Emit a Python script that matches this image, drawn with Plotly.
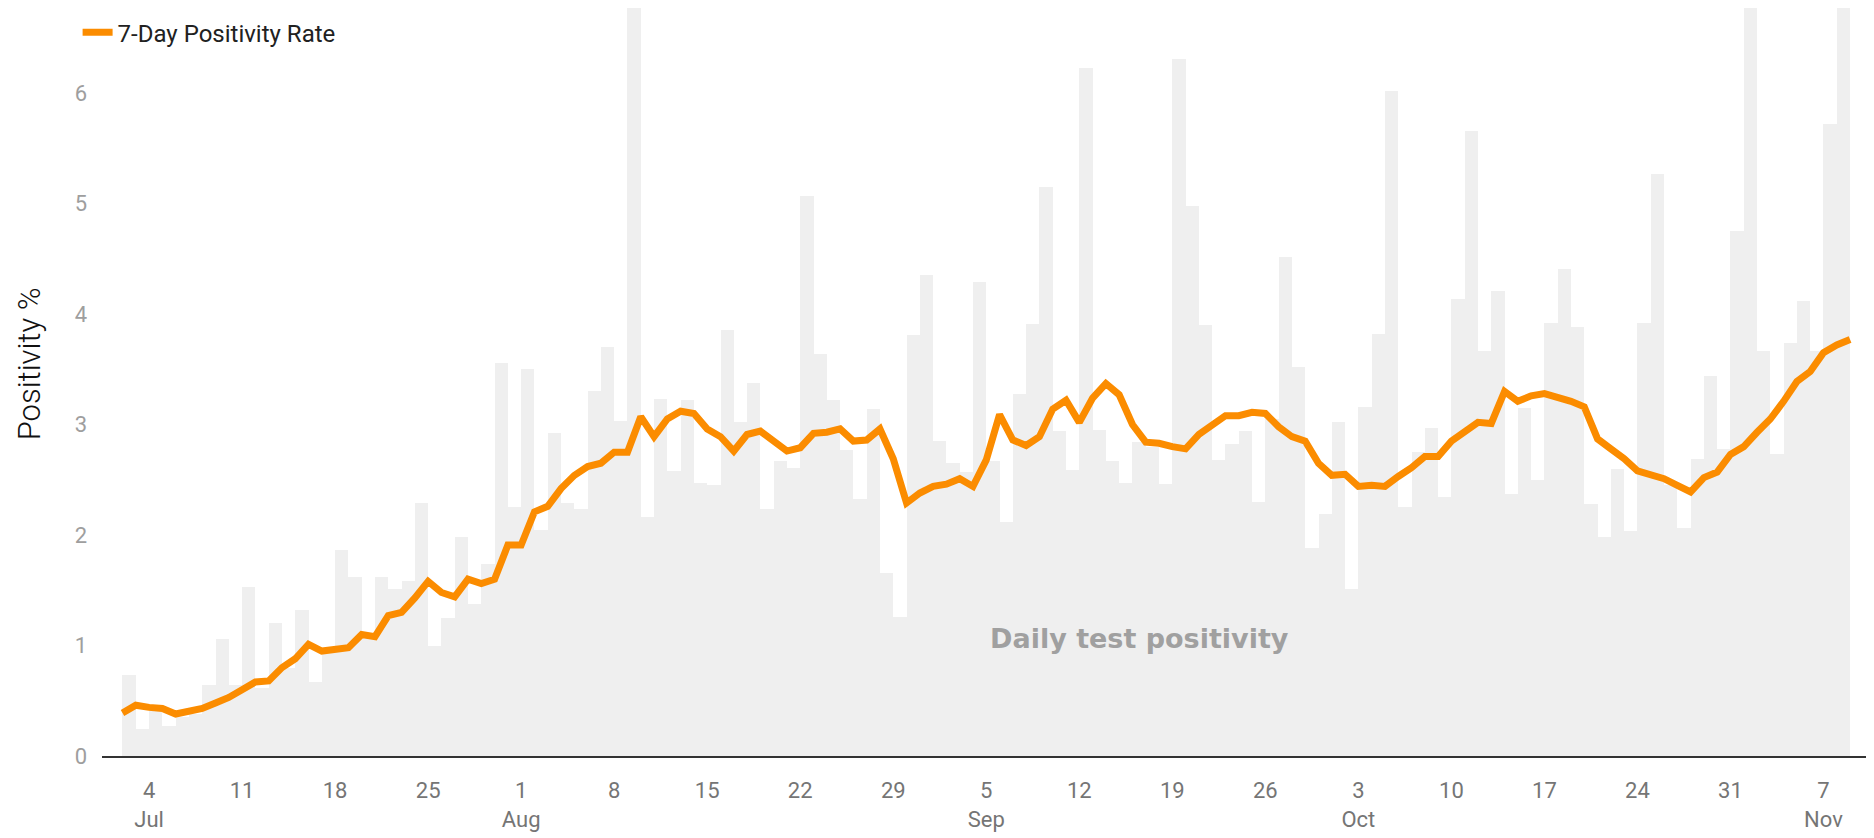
import pandas as pd
import plotly.graph_objects as go

# ---- data -------------------------------------------------------------
start_date = "2020-07-02"

daily_positivity = [
    0.73, 0.24, 0.42, 0.27, 0.35, 0.38, 0.64, 1.06, 0.64, 1.53,
    0.62, 1.20, 0.80, 1.32, 0.67, 0.95, 1.86, 1.62, 1.08, 1.62,
    1.51, 1.58, 2.29, 1.00, 1.25, 1.98, 1.38, 1.74, 3.56, 2.25,
    3.50, 2.05, 2.92, 2.29, 2.24, 3.30, 3.70, 3.03, 6.90, 2.16,
    3.23, 2.58, 3.22, 2.47, 2.45, 3.86, 3.02, 3.38, 2.24, 2.67,
    2.61, 5.07, 3.64, 3.22, 2.77, 2.33, 3.14, 1.66, 1.26, 3.81,
    4.35, 2.85, 2.65, 2.57, 4.29, 2.67, 2.12, 3.28, 3.91, 5.15,
    2.94, 2.59, 6.23, 2.95, 2.67, 2.47, 2.84, 2.80, 2.46, 6.31,
    4.98, 3.90, 2.68, 2.82, 2.94, 2.30, 3.05, 4.52, 3.52, 1.88,
    2.19, 3.02, 1.51, 3.16, 3.82, 6.02, 2.25, 2.75, 2.97, 2.34,
    4.14, 5.66, 3.67, 4.21, 2.37, 3.15, 2.50, 3.92, 4.41, 3.88,
    2.28, 1.98, 2.60, 2.04, 3.92, 5.27, 2.45, 2.06, 2.69, 3.44,
    2.78, 4.75, 6.90, 3.67, 2.73, 3.74, 4.12, 3.67, 5.72, 6.90,
]

seven_day_rate = [
    0.39, 0.46, 0.44, 0.43, 0.38, 0.40, 0.43, 0.48, 0.53, 0.60,
    0.67, 0.68, 0.80, 0.88, 1.01, 0.95, 0.96, 0.98, 1.10, 1.08,
    1.27, 1.30, 1.43, 1.58, 1.48, 1.44, 1.60, 1.56, 1.60, 1.91,
    1.91, 2.21, 2.26, 2.42, 2.54, 2.62, 2.65, 2.75, 2.75, 3.07,
    2.89, 3.05, 3.12, 3.10, 2.96, 2.89, 2.76, 2.91, 2.94, 2.84,
    2.76, 2.79, 2.92, 2.93, 2.96, 2.85, 2.86, 2.96, 2.69, 2.29,
    2.38, 2.44, 2.46, 2.51, 2.44, 2.68, 3.09, 2.86, 2.81, 2.89,
    3.14, 3.22, 3.02, 3.24, 3.37, 3.27, 3.00, 2.84, 2.83, 2.80,
    2.78, 2.91, 3.00, 3.08, 3.08, 3.11, 3.10, 2.98, 2.89, 2.85,
    2.65, 2.54, 2.55, 2.44, 2.45, 2.44, 2.53, 2.61, 2.71, 2.71,
    2.85, 2.93, 3.02, 3.01, 3.30, 3.21, 3.26, 3.28, 3.25, 3.21,
    3.16, 2.87, 2.78, 2.69, 2.58, 2.54, 2.51, 2.45, 2.39, 2.52,
    2.57, 2.73, 2.80, 2.93, 3.05, 3.21, 3.39, 3.48, 3.65, 3.72,
    3.77,
]

tick_dates = [
    "2020-07-04", "2020-07-11", "2020-07-18", "2020-07-25",
    "2020-08-01", "2020-08-08", "2020-08-15", "2020-08-22", "2020-08-29",
    "2020-09-05", "2020-09-12", "2020-09-19", "2020-09-26",
    "2020-10-03", "2020-10-10", "2020-10-17", "2020-10-24", "2020-10-31",
    "2020-11-07",
]
tick_labels = [
    "4<br>Jul", "11", "18", "25",
    "1<br>Aug", "8", "15", "22", "29",
    "5<br>Sep", "12", "19", "26",
    "3<br>Oct", "10", "17", "24", "31",
    "7<br>Nov",
]
y_ticks = [0, 1, 2, 3, 4, 5, 6]

# ---- figure -----------------------------------------------------------
line_dates = pd.date_range(start_date, periods=len(seven_day_rate), freq="D")
bar_dates = line_dates[: len(daily_positivity)]
DAY_MS = 86400000

fig = go.Figure()
fig.add_trace(go.Bar(
    x=bar_dates, y=daily_positivity,
    width=DAY_MS, offset=0,
    marker=dict(color="#efefef", line=dict(width=0)),
    name="Daily test positivity", showlegend=False,
    hoverinfo="x+y",
))
fig.add_trace(go.Scatter(
    x=line_dates, y=seven_day_rate, mode="lines",
    line=dict(color="#fb8c00", width=7),
    name="7-Day Positivity Rate", showlegend=True,
))

fig.update_layout(
    width=1874, height=838,
    margin=dict(l=94, r=12, t=0, b=90),
    paper_bgcolor="white", plot_bgcolor="white",
    bargap=0,
    font=dict(family="Roboto, sans-serif", color="#222222"),
    showlegend=True,
    legend=dict(
        orientation="h", x=-0.0138, y=0.967, xanchor="left", yanchor="middle",
        bgcolor="rgba(0,0,0,0)", font=dict(size=24, color="#212121"),
        itemwidth=30,
    ),
    xaxis=dict(
        type="date",
        range=["2020-06-30 11:00", "2020-11-10 12:00"],
        tickmode="array", tickvals=tick_dates, ticktext=tick_labels,
        tickfont=dict(size=22, color="#757575"),
        ticks="", ticklabelstandoff=14,
        showgrid=False, zeroline=False,
        showline=True, linecolor="#333333", linewidth=2,
    ),
    yaxis=dict(
        range=[0, 6.77],
        tickmode="array", tickvals=y_ticks,
        tickfont=dict(size=22, color="#9e9e9e"),
        ticks="", ticklabelstandoff=14,
        showgrid=False, zeroline=False, showline=False,
    ),
    annotations=[
        dict(
            text="Positivity %", textangle=-90,
            xref="paper", yref="paper", x=-0.0413, y=0.525,
            xanchor="center", yanchor="middle", showarrow=False,
            font=dict(size=31, color="#111111", family="Roboto, sans-serif",
                      weight=300),
        ),
        dict(
            text="<b>Daily test positivity</b>",
            xref="x", yref="y", x="2020-09-16 12:00", y=1.06,
            xanchor="center", yanchor="middle", showarrow=False,
            font=dict(size=27, color="#a0a0a0", family="DejaVu Sans, sans-serif"),
        ),
    ],
)

fig.write_html("out.html")
